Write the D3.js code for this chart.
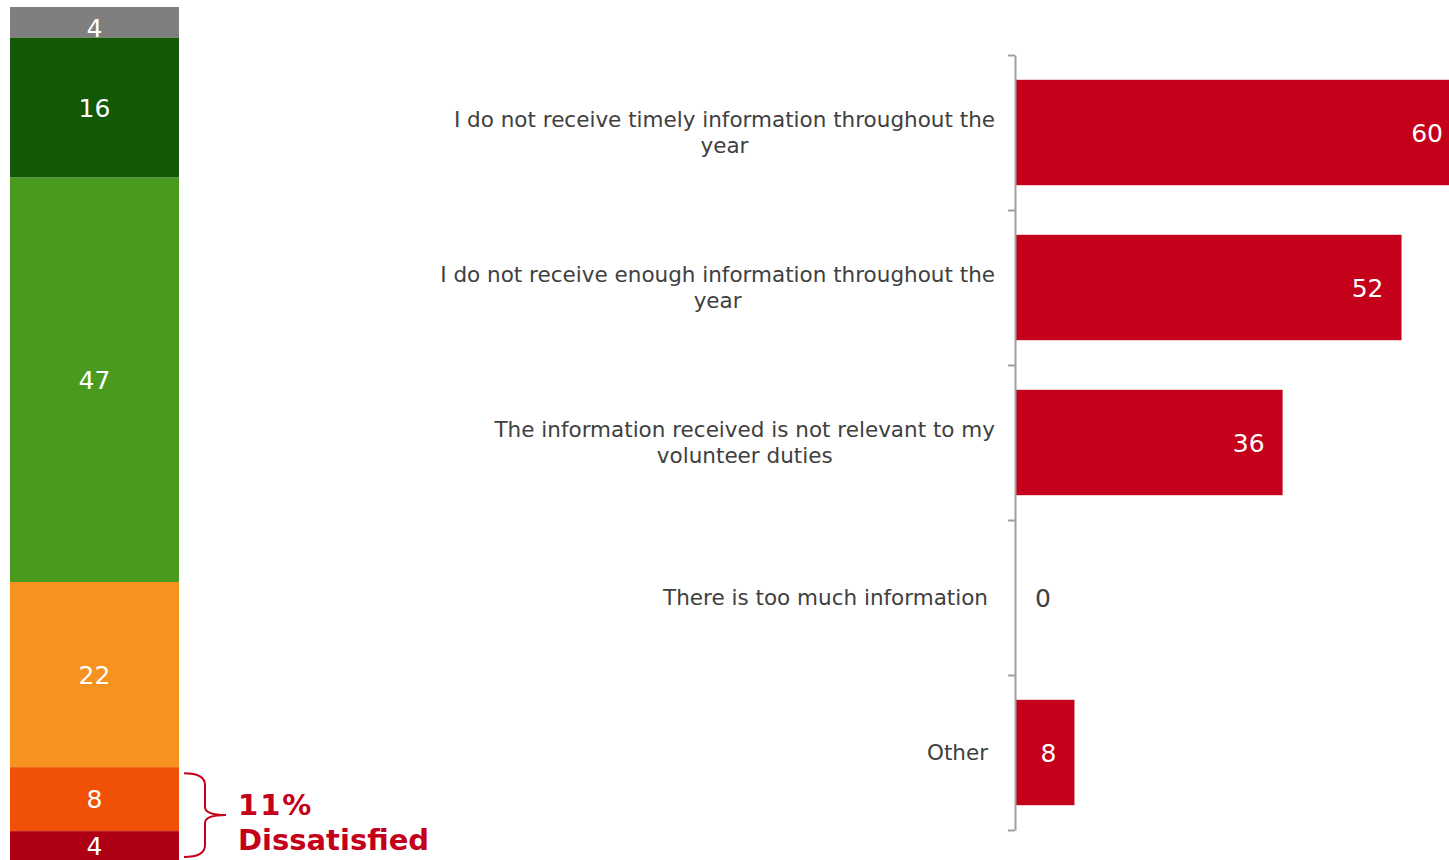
<!DOCTYPE html>
<html>
<head>
<meta charset="utf-8">
<script src="https://cdn.jsdelivr.net/npm/d3@7"></script>
<style>
  html, body { margin: 0; padding: 0; background: #fff; overflow: hidden; }
  svg { display: block; font-family: "DejaVu Sans", Verdana, sans-serif; }
</style>
</head>
<body>
<svg id="chart" width="1449" height="860"></svg>
<script>
// left stacked bar, top to bottom (labels shown rounded)
const stackLabels = ["No answer", "Very satisfied", "Satisfied", "Neutral", "Dissatisfied", "Very dissatisfied"];
const stackValues = [3.6, 16.4, 47.4, 21.7, 7.5, 3.5];
const stackColors = ["#7f7f7f", "#135806", "#4a9a1f", "#f6921f", "#f05107", "#ae0015"];

// right bar chart
const reasons = [
    ["I do not receive timely information throughout the", "year"],
    ["I do not receive enough information throughout the", "year"],
    ["The information received is not relevant to my", "volunteer duties"],
    ["There is too much information"],
    ["Other"]
];
const reasonValues = [60, 52, 36, 0, 8];

const svg = d3.select("#chart");

// ---- stacked bar ----
let acc = 0;
const segs = stackValues.map((v, i) => {
    const s = { label: stackLabels[i], value: v, y0: acc, y1: acc + v, color: stackColors[i] };
    acc += v;
    return s;
});

const sy = d3.scaleLinear().domain([0, acc]).range([7, 861]);
const sx0 = 10, sx1 = 179;

const stackG = svg.append("g");
stackG.selectAll("rect")
    .data(segs)
    .join("rect")
    .attr("x", sx0)
    .attr("width", sx1 - sx0)
    .attr("y", d => sy(d.y0))
    .attr("height", d => sy(d.y1) - sy(d.y0))
    .attr("fill", d => d.color);

stackG.selectAll("text")
    .data(segs)
    .join("text")
    .attr("x", (sx0 + sx1) / 2)
    .attr("y", (d, i) => (sy(d.y0) + sy(d.y1)) / 2 + (i === 0 ? 6 : 0))
    .attr("dy", "0.36em")
    .attr("text-anchor", "middle")
    .attr("fill", "#fff")
    .style("font-size", "25px")
    .text(d => Math.round(d.value));

// bracket for dissatisfied
const dis = segs.slice(4);
const bTop = sy(dis[0].y0) + 6, bBot = sy(dis[dis.length - 1].y1) - 4;
const bMid = (bTop + bBot) / 2;
const bx = 184, bv = 205, bt = 226;
svg.append("path")
    .attr("d", `M${bx},${bTop} Q${bv},${bTop} ${bv},${bTop + 12} L${bv},${bMid - 8} Q${bv},${bMid} ${bt},${bMid}
                Q${bv},${bMid} ${bv},${bMid + 8} L${bv},${bBot - 12} Q${bv},${bBot} ${bx},${bBot}`)
    .attr("fill", "none")
    .attr("stroke", "#c5001a")
    .attr("stroke-width", 2);

const disTotal = Math.round(d3.sum(dis, d => d.value));
svg.append("text")
    .attr("x", 238).attr("y", 815)
    .attr("fill", "#c5001a")
    .style("font-size", "29px").style("font-weight", "bold")
    .style("letter-spacing", "2px")
    .text(`${disTotal}%`);
svg.append("text")
    .attr("x", 238).attr("y", 850)
    .attr("fill", "#c5001a")
    .style("font-size", "29px").style("font-weight", "bold")
    .text("Dissatisfied");

// ---- horizontal bars ----
const xScale = d3.scaleLinear().domain([0, 60]).range([1015, 1461]);
const yScale = d3.scaleBand()
    .domain(d3.range(reasons.length))
    .range([55, 830])
    .paddingInner(0.32)
    .paddingOuter(0.16);

const tickScale = d3.scaleLinear().domain([0, reasons.length]).range([55, 830]);

svg.append("g")
    .selectAll("rect")
    .data(reasonValues)
    .join("rect")
    .attr("x", xScale(0))
    .attr("y", (d, i) => yScale(i))
    .attr("width", d => xScale(d) - xScale(0))
    .attr("height", yScale.bandwidth())
    .attr("fill", "#c4001a");

svg.append("g")
    .selectAll("text")
    .data(reasonValues)
    .join("text")
    .attr("x", d => d > 0 ? xScale(d) - 18 : xScale(0) + 20)
    .attr("y", (d, i) => yScale(i) + yScale.bandwidth() / 2)
    .attr("dy", "0.36em")
    .attr("text-anchor", d => d > 0 ? "end" : "start")
    .attr("fill", d => d > 0 ? "#fff" : "#404040")
    .style("font-size", "25px")
    .text(d => d);

const axis = svg.append("g")
    .attr("transform", `translate(${xScale(0)},0)`)
    .call(d3.axisLeft(tickScale).tickValues(d3.range(reasons.length + 1)).tickFormat("").tickSize(7).tickSizeOuter(0));
axis.selectAll("path, line").attr("stroke", "#a0a0a0").attr("stroke-width", 2);

// category labels, wrapped lines centred on each other, block right-aligned
const labelRight = 995;
const lineH = 26;
const labelG = svg.append("g")
    .style("font-size", "21.5px")
    .attr("fill", "#404040");

reasons.forEach((lines, i) => {
    const cy = yScale(i) + yScale.bandwidth() / 2;
    const t = labelG.append("text").attr("text-anchor", "middle");
    const widths = lines.map(l => {
        const s = labelG.append("text").text(l);
        const w = s.node().getComputedTextLength();
        s.remove();
        return w;
    });
    const maxW = d3.max(widths);
    const cx = labelRight - (lines.length > 1 ? 0 : 7) - maxW / 2;
    lines.forEach((l, j) => {
        t.append("tspan")
            .attr("x", cx)
            .attr("y", cy + (j - (lines.length - 1) / 2) * lineH)
            .attr("dy", "0.36em")
            .text(l);
    });
});
</script>
</body>
</html>
